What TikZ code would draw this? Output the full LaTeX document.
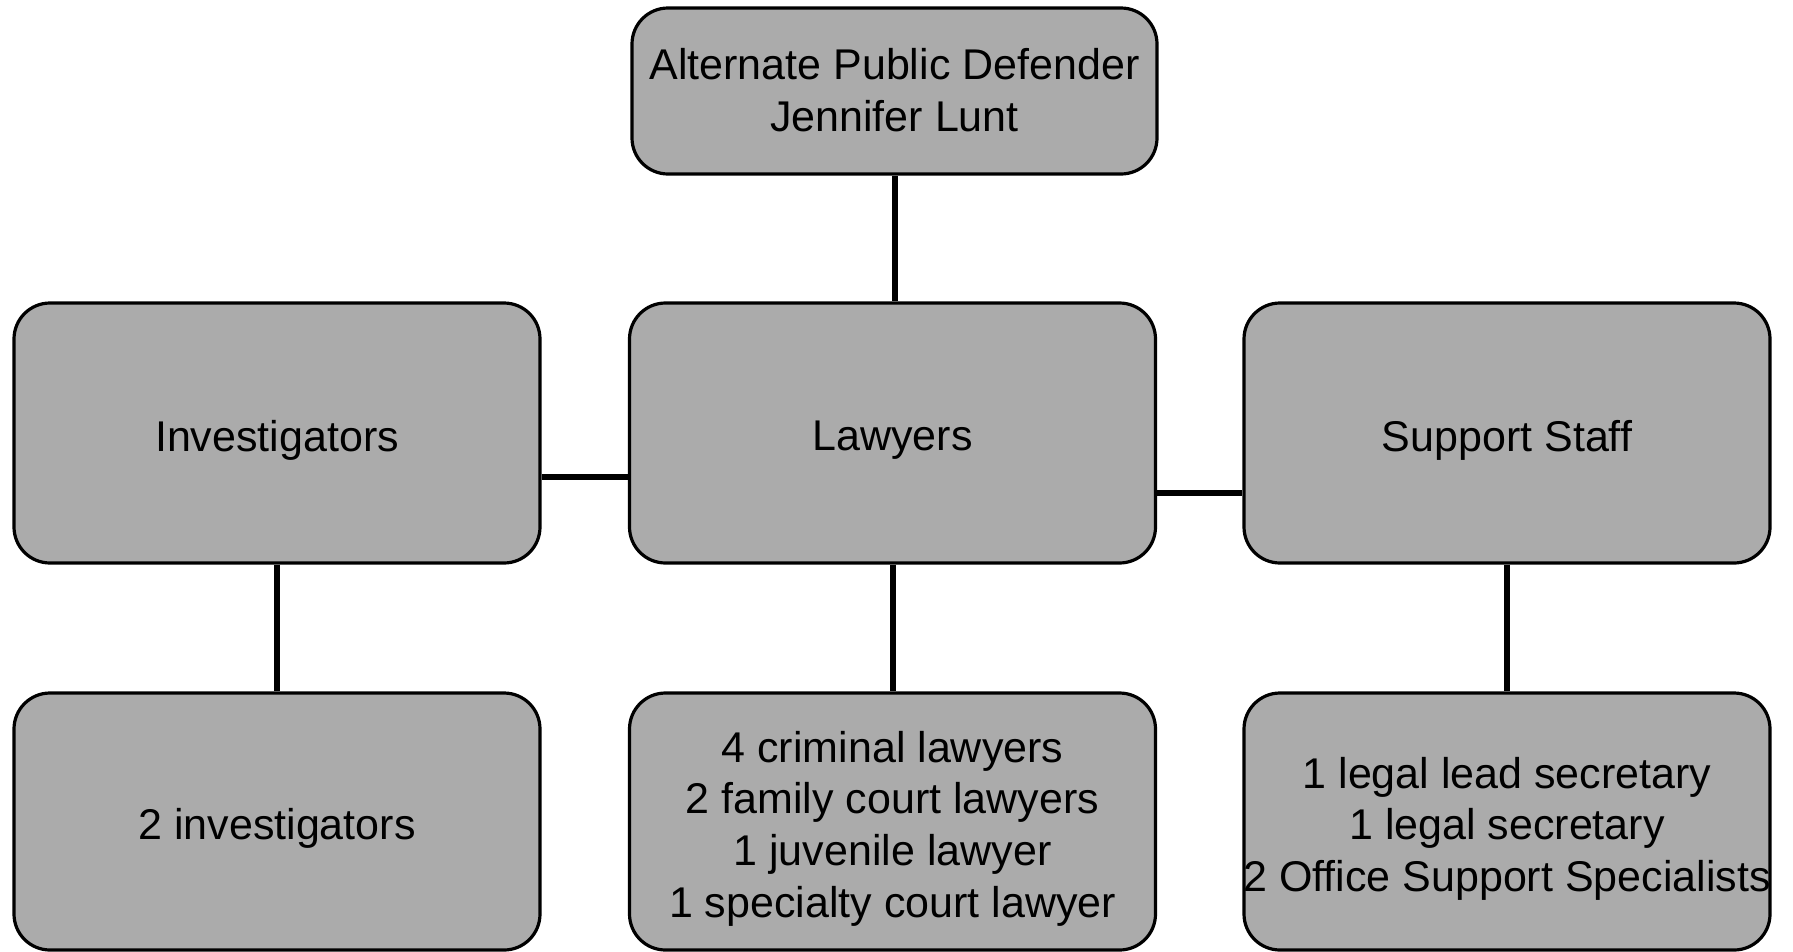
\documentclass[tikz,border=0pt]{standalone}
\usepackage{fontspec}
\setmainfont{Liberation Sans}
\begin{document}
\begin{tikzpicture}[x=1pt,y=-1pt,
  box/.style={draw=black, line width=3.2pt, fill=black!33, rounded corners=36pt,
    inner sep=0pt},
  lab/.style={align=center, text=black, inner sep=0pt, yshift=-7pt,
    font=\fontsize{43}{51.6}\selectfont},
  topbox/.style={box, minimum width=525pt, minimum height=166pt},
  midbox/.style={box, minimum width=526pt, minimum height=260pt},
  lowbox/.style={box, minimum width=526pt, minimum height=257pt},
  link/.style={draw=black, line width=6pt}]
\useasboundingbox (0,0) rectangle (1793,951);
\fill[white] (0,0) rectangle (1793,951);

\node[topbox, label={[lab, yshift=8pt]center:Alternate Public Defender\\Jennifer Lunt}] (top) at (894.5,91) {};

\node[midbox, label={[lab]center:Investigators}] (inv) at (277,433) {};
\node[midbox, label={[lab]center:Lawyers}] (law) at (892.5,433) {};
\node[midbox, label={[lab]center:Support Staff}] (sup) at (1507,433) {};

\node[lowbox, label={[lab]center:2 investigators}] (invd) at (277,821.5) {};
\node[lowbox, label={[lab]center:4 criminal lawyers\\2 family court lawyers\\1 juvenile lawyer\\1 specialty court lawyer}] (lawd) at (892.5,821.5) {};
\node[lowbox, label={[lab]center:1 legal lead secretary\\1 legal secretary\\2 Office Support Specialists}] (supd) at (1507,821.5) {};

\draw[link] (top.south) -- (top.south |- law.north);
\draw[link] ([yshift=-44pt]inv.east) -- ([yshift=-44pt]inv.east -| law.west);
\draw[link] ([yshift=-60pt]law.east) -- ([yshift=-60pt]law.east -| sup.west);
\draw[link] (inv.south) -- (invd.north);
\draw[link] (law.south) -- (lawd.north);
\draw[link] (sup.south) -- (supd.north);
\end{tikzpicture}
\end{document}
